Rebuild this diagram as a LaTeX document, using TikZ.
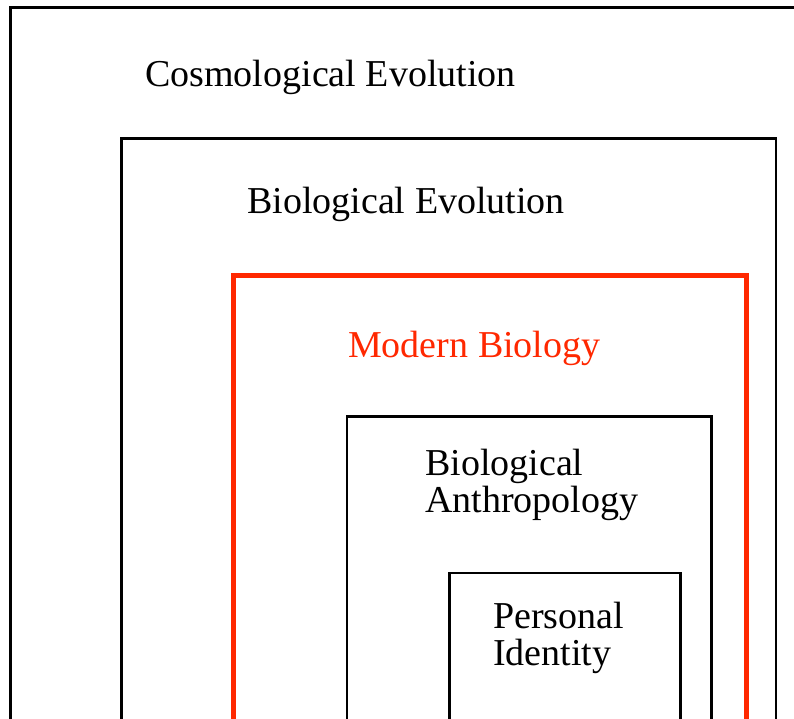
\documentclass[tikz,border=0pt]{standalone}
\usepackage{fontspec}
\setmainfont{Liberation Serif}
\definecolor{modred}{RGB}{255,40,0}
\tikzset{
  lbl/.style={anchor=base west, inner sep=0pt, align=left, font=\fontsize{38}{37}\selectfont},
  thinbox/.style={draw=black, line width=2.2pt},
}
\begin{document}
\begin{tikzpicture}[x=1pt,y=-1pt]
\useasboundingbox (0,0) rectangle (794,719);
\fill[white] (0,0) rectangle (794,719);
\clip (0,0) rectangle (794,719);
% boxes
\draw[line width=3pt] (10.5,760) -- (10.5,7.5) -- (820,7.5);
\draw[thinbox] (121.5,760) -- (121.5,138.5) -- (776,138.5) -- (776,760);
\draw[draw=modred, line width=5pt] (233,760) -- (233,275.5) -- (746,275.5) -- (746,760);
\draw[thinbox] (347,760) -- (347,416.5) -- (711.5,416.5) -- (711.5,760);
\draw[thinbox] (449.5,760) -- (449.5,573) -- (680.5,573) -- (680.5,760);
% labels
\node[lbl] (cosmo) at (145,87) {Cosmological Evolution};
\node[lbl] (bioevo) at (247,214) {Biological Evolution};
\node[lbl, text=modred] (modbio) at (348,357) {Modern Biology};
\node[lbl] (bioanth) at (425,512) {Biological\\Anthropology};
\node[lbl] (persid) at (493,665) {Personal\\Identity};
\end{tikzpicture}
\end{document}
